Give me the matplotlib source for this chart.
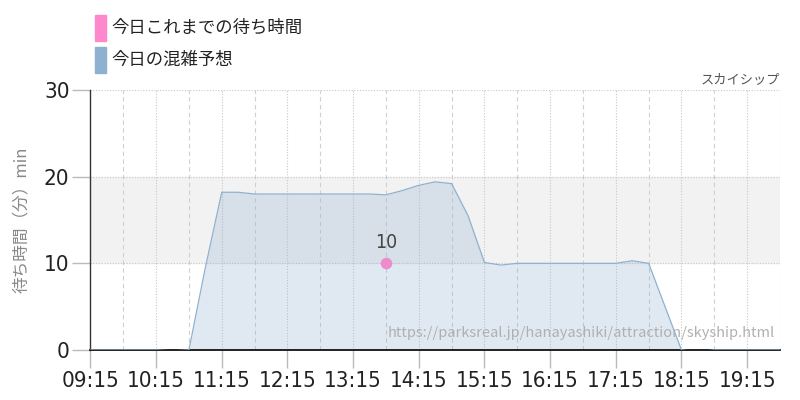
import matplotlib
matplotlib.use("Agg")
import matplotlib.pyplot as plt
from matplotlib.patches import Rectangle
import numpy as np

plt.rcParams['font.family'] = ['Noto Sans CJK JP', 'DejaVu Sans']

# 混雑予想 (15分刻み, 09:15 - 19:45)
times = ["09:15", "09:30", "09:45", "10:00", "10:15", "10:30", "10:45", "11:00",
         "11:15", "11:30", "11:45", "12:00", "12:15", "12:30", "12:45", "13:00",
         "13:15", "13:30", "13:45", "14:00", "14:15", "14:30", "14:45", "15:00",
         "15:15", "15:30", "15:45", "16:00", "16:15", "16:30", "16:45", "17:00",
         "17:15", "17:30", "17:45", "18:00", "18:15", "18:30", "18:45", "19:00",
         "19:15", "19:30", "19:45"]
forecast = [0, 0, 0, 0, 0, -0.1, 0, 9.5,
            18.2, 18.2, 18.0, 18.0, 18.0, 18.0, 18.0, 18.0,
            18.0, 18.0, 17.9, 18.4, 19.0, 19.4, 19.2, 15.5,
            10.1, 9.8, 10.0, 10.0, 10.0, 10.0, 10.0, 10.0,
            10.0, 10.3, 10.0, 5.0, 0, -0.2, 0, 0,
            0, 0, 0]

# 今日これまでの待ち時間
actual_times = ["13:45"]
actual_waits = [10]

tick_labels = ["09:15", "10:15", "11:15", "12:15", "13:15", "14:15",
               "15:15", "16:15", "17:15", "18:15", "19:15"]

NUM_FONT = dict(family='DejaVu Sans', stretch='condensed')


def to_h(s):
    h, m = s.split(":")
    return int(h) + int(m) / 60


x = np.array([to_h(t) for t in times])
xa = np.array([to_h(t) for t in actual_times])

fig = plt.figure(figsize=(8, 4), dpi=100)
ax = fig.add_axes([0.113, 0.125, 0.862, 0.65])

ax.axhspan(10, 20, color='#f2f2f2', zorder=0)
ax.fill_between(x, forecast, 0, color='#8fb1d0', alpha=0.27, lw=0, zorder=2)
ax.plot(x, forecast, color='#8fb1d0', lw=0.9, zorder=3)

ax.scatter(xa, actual_waits, s=70, color='#ec8ccb', zorder=5, lw=0)
for xi, v in zip(xa, actual_waits):
    ax.text(xi, v + 1.3, str(v), ha='center', va='bottom', fontsize=14,
            color='#444444', zorder=6, **NUM_FONT)

ax.set_xlim(to_h("09:15"), to_h("19:45"))
ax.set_ylim(0, 30)

# grid
major = [to_h(t) for t in tick_labels]
ax.set_xticks(major)
ax.set_xticklabels(tick_labels)
for xv in major[1:]:
    ax.axvline(xv, color='#c8c8c8', lw=0.8, ls=(0, (1, 1.5)), zorder=1)
for xv in np.arange(to_h("09:45"), to_h("19:45") + 0.01, 1.0):
    ax.axvline(xv, color='#d0d0d0', lw=0.8, ls=(0, (4, 3)), zorder=1)
for yv in [10, 20, 30]:
    ax.axhline(yv, color='#c8c8c8', lw=0.8, ls=(0, (1, 1.5)), zorder=1)

ax.set_yticks([0, 10, 20, 30])
ax.tick_params(axis='both', colors='#bbbbbb', length=13, width=1,
               labelcolor='#222222', labelsize=16, pad=2)
for lab in ax.get_xticklabels() + ax.get_yticklabels():
    lab.set_family('DejaVu Sans')
    lab.set_stretch('condensed')

for s in ['top', 'right']:
    ax.spines[s].set_visible(False)
ax.spines['left'].set_color('#333333')
ax.spines['bottom'].set_color('#111111')
ax.spines['left'].set_linewidth(1.0)
ax.spines['bottom'].set_linewidth(1.3)

ax.set_ylabel("待ち時間（分）min", fontsize=12, color='#888888', labelpad=10)

ax.text(0.992, 0.04, "https://parksreal.jp/hanayashiki/attraction/skyship.html",
        transform=ax.transAxes, ha='right', va='bottom', fontsize=10.5,
        color='#b0b0b0', zorder=4)

fig.text(0.975, 1 - 86 / 400, "スカイシップ", ha='right', va='bottom', fontsize=9.5,
         color='#555555')

# legend
fig.patches.append(Rectangle((95 / 800, 1 - 41 / 400), 11 / 800, 26 / 400,
                             transform=fig.transFigure, color='#ff88cc'))
fig.patches.append(Rectangle((95 / 800, 1 - 73 / 400), 11 / 800, 26 / 400,
                             transform=fig.transFigure, color='#8fb1d0'))
fig.text(111 / 800, 1 - 28 / 400, "今日これまでの待ち時間", va='center',
         fontsize=12.5, color='#222222')
fig.text(111 / 800, 1 - 60 / 400, "今日の混雑予想", va='center',
         fontsize=12.5, color='#222222')

fig.savefig("out.png", dpi=100)
